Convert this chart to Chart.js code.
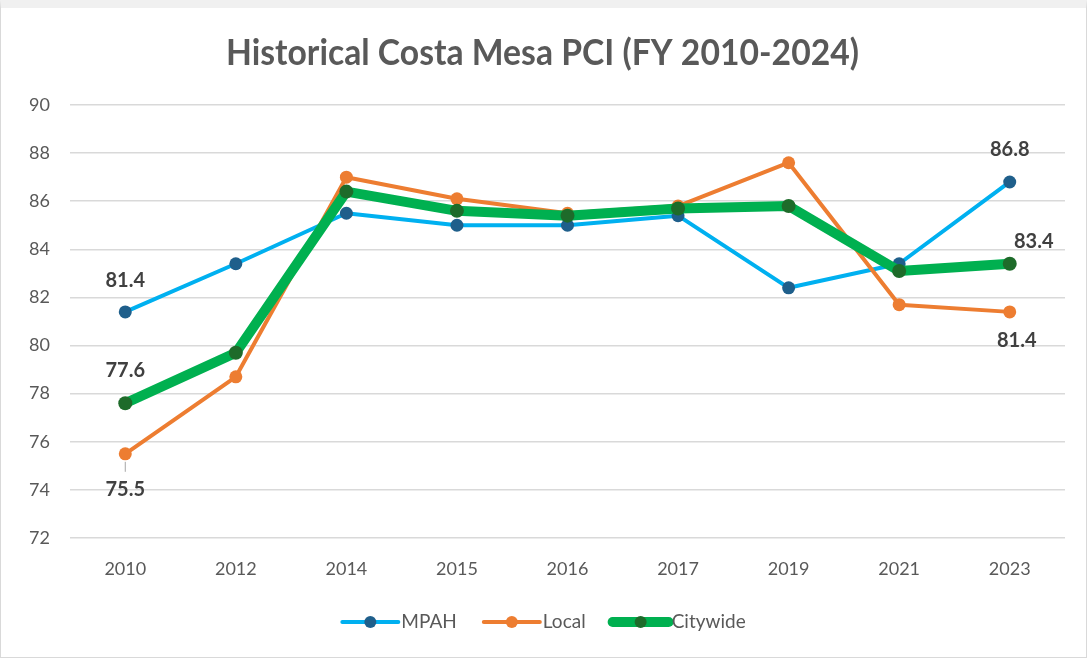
<!DOCTYPE html>
<html>
<head>
<meta charset="utf-8">
<script src="https://cdn.jsdelivr.net/npm/chart.js@4.4.1/dist/chart.umd.min.js"></script>
<style>
  html, body { margin: 0; padding: 0; background: #fff; }
  #wrap { position: relative; width: 1087px; height: 658px; box-sizing: border-box; border: 1px solid #d9d9d9; border-top: 8px solid #f0f0f0; }
  canvas { display: block; }
</style>
</head>
<body>
<div id="wrap"><canvas id="pciChart" width="1085" height="649"></canvas></div>
<script>
// Data
const years = ['2010', '2012', '2014', '2015', '2016', '2017', '2019', '2021', '2023'];
const mpah = [81.4, 83.4, 85.5, 85.0, 85.0, 85.4, 82.4, 83.4, 86.8];
const local = [75.5, 78.7, 87.0, 86.1, 85.5, 85.8, 87.6, 81.7, 81.4];
const citywide = [77.6, 79.7, 86.4, 85.6, 85.4, 85.7, 85.8, 83.1, 83.4];
const yTicks = [72, 74, 76, 78, 80, 82, 84, 86, 88, 90];

const FONT = 'Lato, "Open Sans", sans-serif';
const GREY = '#595959';

// Title (squeezed a little so it reads like the condensed original)
const titlePlugin = {
    id: 'titlePlugin',
    afterDraw(chart) {
        const ctx = chart.ctx;
        const text = 'Historical Costa Mesa PCI (FY 2010-2024)';
        ctx.save();
        ctx.font = 'bold 37px ' + FONT;
        ctx.fillStyle = GREY;
        ctx.textBaseline = 'middle';
        const w = ctx.measureText(text).width;
        const target = 633;
        const sx = Math.min(1, target / w);
        ctx.translate(chart.width / 2 - 1, 45);
        ctx.scale(sx, 1);
        ctx.textAlign = 'center';
        ctx.fillText(text, 0, 0);
        ctx.restore();
    }
};

// Data labels at first and last point
const labelPlugin = {
    id: 'labelPlugin',
    afterDatasetsDraw(chart) {
        const ctx = chart.ctx;
        const offsets = {
            0: { first: [0, -31], last: [0, -32] },
            1: { first: [0, 36], last: [7, 29] },
            2: { first: [0, -33], last: [24, -22] }
        };
        ctx.save();
        ctx.font = 'bold 20px ' + FONT;
        ctx.fillStyle = '#404040';
        ctx.textAlign = 'center';
        ctx.textBaseline = 'middle';
        chart.data.datasets.forEach((ds, i) => {
            const meta = chart.getDatasetMeta(i);
            const n = ds.data.length;
            [[0, 'first'], [n - 1, 'last']].forEach(([idx, key]) => {
                const pt = meta.data[idx];
                const off = offsets[i][key];
                if (i === 1 && key === 'first') {
                    ctx.strokeStyle = '#a6a6a6';
                    ctx.lineWidth = 1;
                    ctx.beginPath();
                    ctx.moveTo(pt.x, pt.y + 8);
                    ctx.lineTo(pt.x, pt.y + 18);
                    ctx.stroke();
                }
                ctx.fillText(ds.data[idx].toFixed(1), pt.x + off[0], pt.y + off[1]);
            });
        });
        ctx.restore();
    }
};

// Legend with line + marker like the original
const legendPlugin = {
    id: 'legendPlugin',
    afterDraw(chart) {
        const ctx = chart.ctx;
        const y = 614;
        const lineLen = 56;
        ctx.save();
        ctx.font = '19px ' + FONT;
        ctx.textBaseline = 'middle';
        const items = chart.data.datasets.slice().sort((a, b) => a.legendIndex - b.legendIndex);
        const widths = items.map(ds => lineLen + 4 + ctx.measureText(ds.label).width);
        const gap = 26;
        const total = widths.reduce((a, b) => a + b, 0) + gap * (items.length - 1);
        let x = chart.width / 2 - total / 2 + 1;
        items.forEach((ds, i) => {
            ctx.strokeStyle = ds.borderColor;
            ctx.lineWidth = ds.borderWidth;
            ctx.lineCap = 'round';
            ctx.beginPath();
            ctx.moveTo(x, y);
            ctx.lineTo(x + lineLen, y);
            ctx.stroke();
            ctx.fillStyle = ds.pointBackgroundColor;
            ctx.beginPath();
            ctx.arc(x + lineLen / 2, y, 6, 0, Math.PI * 2);
            ctx.fill();
            ctx.fillStyle = GREY;
            ctx.textAlign = 'left';
            ctx.fillText(ds.label, x + lineLen + 3, y);
            x += widths[i] + gap;
        });
        ctx.restore();
    }
};

const ctx = document.getElementById('pciChart').getContext('2d');
new Chart(ctx, {
    type: 'line',
    data: {
        labels: years,
        datasets: [{
            label: 'MPAH',
            legendIndex: 0,
            data: mpah,
            borderColor: '#00B0F0',
            borderWidth: 4,
            pointBackgroundColor: '#1F5F8B',
            pointBorderColor: '#1F5F8B',
            pointBorderWidth: 0,
            pointRadius: 6.5,
            order: 2
        }, {
            label: 'Local',
            legendIndex: 1,
            data: local,
            borderColor: '#ED7D31',
            borderWidth: 4,
            pointBackgroundColor: '#ED7D31',
            pointBorderColor: '#ED7D31',
            pointBorderWidth: 0,
            pointRadius: 6.5,
            order: 1
        }, {
            label: 'Citywide',
            legendIndex: 2,
            data: citywide,
            borderColor: '#00B050',
            borderWidth: 10,
            pointBackgroundColor: '#1E6B2A',
            pointBorderColor: '#1E6B2A',
            pointBorderWidth: 0,
            pointRadius: 7,
            order: 0
        }]
    },
    options: {
        responsive: false,
        animation: false,
        layout: {
            padding: { top: 97, bottom: 0, left: 0, right: 21 }
        },
        plugins: {
            legend: { display: false },
            tooltip: { enabled: false }
        },
        elements: {
            line: { tension: 0, borderJoinStyle: 'round', borderCapStyle: 'round' }
        },
        scales: {
            x: {
                offset: true,
                grid: { display: false, drawTicks: false, offset: true },
                border: { display: false },
                ticks: { color: GREY, font: { family: FONT, size: 18 }, padding: 20 },
                afterFit(scale) { scale.height = 119; }
            },
            y: {
                min: 72,
                max: 90,
                afterBuildTicks(scale) { scale.ticks = yTicks.map(v => ({ value: v })); },
                grid: { color: '#d9d9d9', lineWidth: 1.5, drawTicks: false },
                border: { display: false },
                ticks: { color: GREY, font: { family: FONT, size: 18 }, padding: 20 },
                afterFit(scale) { scale.width = 69; }
            }
        }
    },
    plugins: [titlePlugin, labelPlugin, legendPlugin]
});
</script>
</body>
</html>
